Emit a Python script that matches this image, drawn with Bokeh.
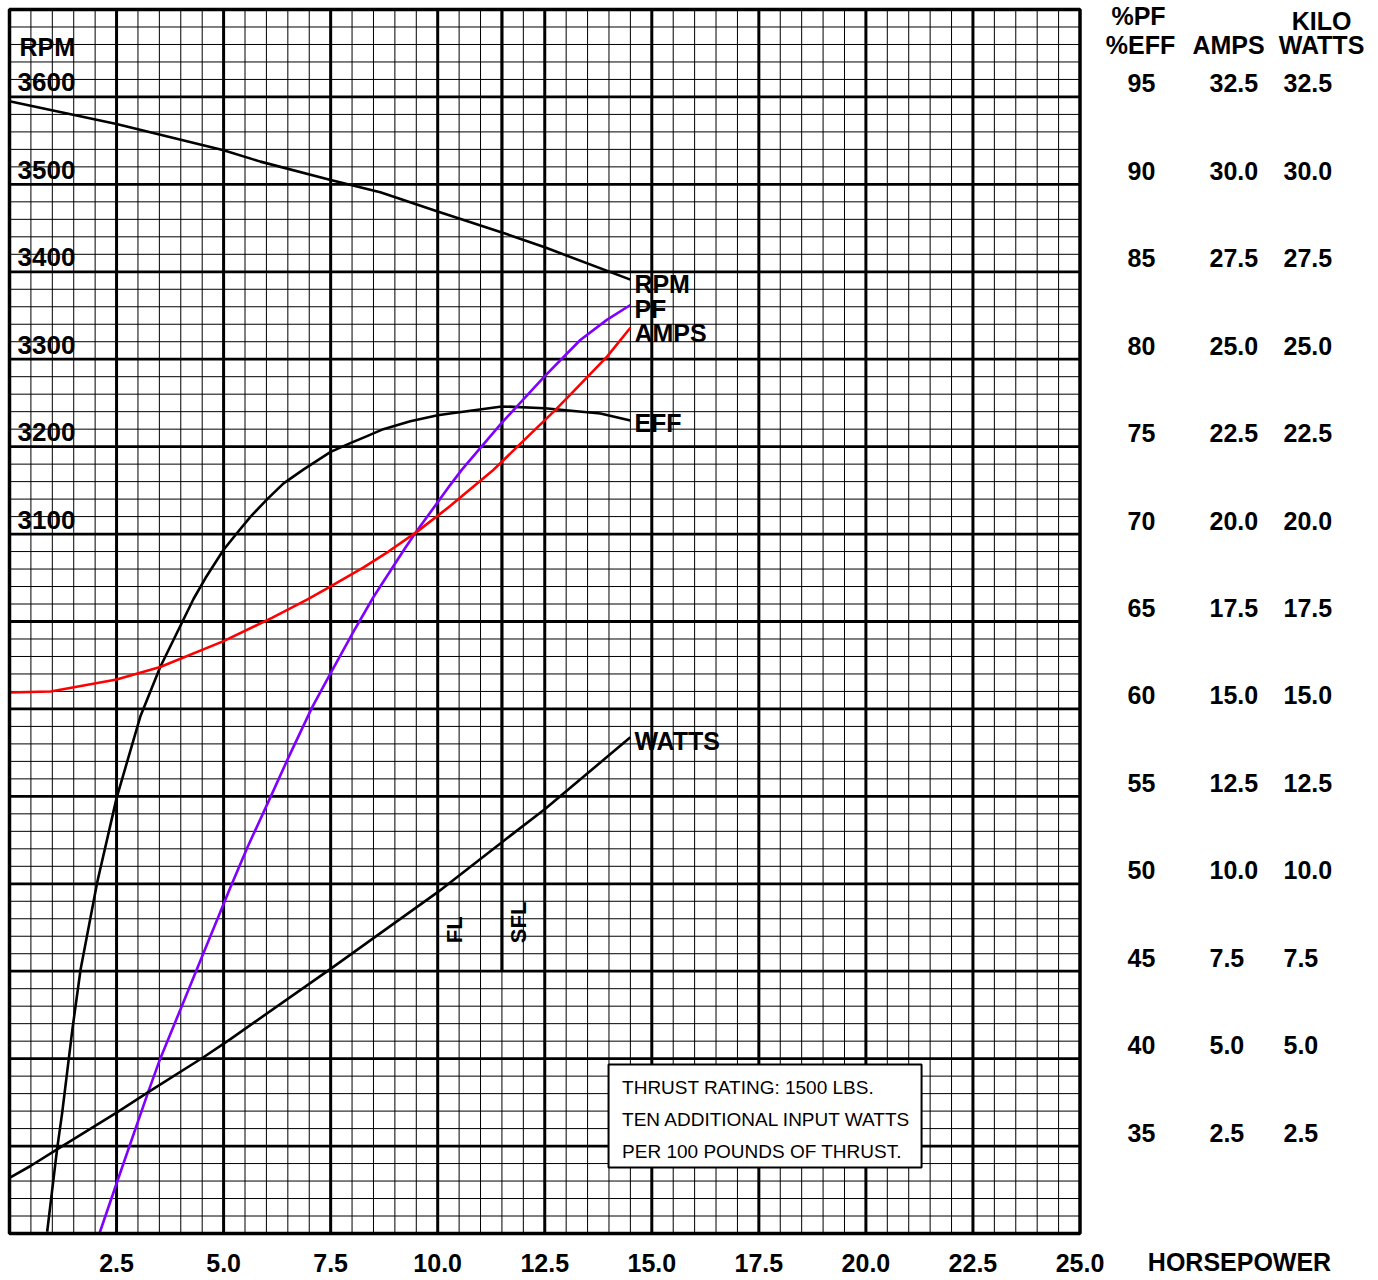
import math
from bokeh.plotting import figure
from bokeh.models import Range1d, Label, BoxAnnotation
from bokeh.embed import file_html
from bokeh.resources import INLINE

# ---------------- data ----------------
RPM_HP = [0.0, 2.5, 5.0, 5.86, 7.5, 8.66, 10.0, 11.5, 12.5, 14.5]
RPM_VALUES = [3595, 3569, 3539, 3526, 3505, 3491, 3469, 3445, 3428, 3391]

EFF_HP = [0.88, 1.11, 1.23, 1.47, 1.66, 2.05, 2.36, 2.50, 3.06, 3.52, 4.04, 4.30,
          4.58, 5.00, 5.31, 5.63, 6.02, 6.40, 6.87, 7.50, 7.96, 8.35, 8.73, 9.36,
          10.0, 10.29, 11.5, 12.5, 13.8, 14.5]
EFF_VALUES = [30.1, 34.8, 36.9, 41.7, 45.1, 50.1, 53.4, 54.9, 59.6, 62.4, 65.0, 66.3,
              67.5, 69.1, 70.05, 71.0, 72.0, 72.9, 73.7, 74.7, 75.2, 75.6, 76.0, 76.45,
              76.8, 76.9, 77.3, 77.2, 76.9, 76.5]

PF_HP = [2.10, 2.52, 3.24, 3.52, 4.04, 4.39, 5.16, 5.56, 6.14, 6.51, 7.07, 7.49,
         8.03, 8.50, 9.24, 9.52, 10.29, 10.57, 11.51, 12.49, 13.33, 13.95, 14.5]
PF_VALUES = [30.0, 33.0, 38.1, 40.0, 43.1, 45.2, 49.8, 52.1, 55.2, 57.2, 60.1, 62.0,
             64.4, 66.4, 69.2, 70.2, 72.8, 73.7, 76.4, 79.0, 81.1, 82.25, 83.1]

AMPS_HP = [0.0, 0.96, 2.5, 3.52, 5.0, 6.14, 6.96, 7.49, 8.26, 8.85, 9.52, 10.29,
           11.27, 12.75, 13.33, 13.96, 14.5]
AMPS_VALUES = [15.47, 15.5, 15.84, 16.2, 16.94, 17.61, 18.13, 18.5, 19.04, 19.5, 20.07,
               20.8, 21.8, 23.55, 24.28, 25.08, 25.9]

WATTS_HP = [0.0, 0.49, 1.12, 2.52, 3.24, 4.53, 5.16, 7.49, 10.0, 11.5, 12.5, 14.5]
KW_VALUES = [1.59, 1.93, 2.41, 3.47, 4.04, 5.04, 5.56, 7.56, 9.76, 11.19, 12.13, 14.19]

FL_HP = 10.0
SFL_HP = 11.5
SFL_BOTTOM_PCT = 45

X_TICKS = [2.5, 5.0, 7.5, 10.0, 12.5, 15.0, 17.5, 20.0, 22.5, 25.0]
X_TICK_LABELS = ["2.5", "5.0", "7.5", "10.0", "12.5", "15.0", "17.5", "20.0", "22.5", "25.0"]
RPM_TICKS = [3100, 3200, 3300, 3400, 3500, 3600]
PCT_TICKS = [35, 40, 45, 50, 55, 60, 65, 70, 75, 80, 85, 90, 95]
AMPS_TICKS = [2.5, 5.0, 7.5, 10.0, 12.5, 15.0, 17.5, 20.0, 22.5, 25.0, 27.5, 30.0, 32.5]
KW_TICKS = [2.5, 5.0, 7.5, 10.0, 12.5, 15.0, 17.5, 20.0, 22.5, 25.0, 27.5, 30.0, 32.5]

NOTE_LINES = ["THRUST RATING: 1500 LBS.",
              "TEN ADDITIONAL INPUT WATTS",
              "PER 100 POUNDS OF THRUST."]

# scale extents
HP_MIN, HP_MAX = 0.0, 25.0
PCT_MIN, PCT_MAX = 30.0, 100.0
RPM_MIN, RPM_MAX = 2300.0, 3700.0
AMPS_MIN, AMPS_MAX = 0.0, 35.0

FONT = "Liberation Sans"

# ---------------- layout: frame covers the whole canvas ----------------
W, H = 1376, 1278
PX_LEFT, PX_RIGHT, PX_TOP, PX_BOTTOM = 9.0, 1079.5, 9.0, 1233.0


def ext_range(lo, hi, px_lo, px_hi, total, invert=False):
    per = (hi - lo) / (px_hi - px_lo)
    if invert:  # vertical: px grows downward
        return Range1d(lo - (total - px_hi) * per, hi + px_lo * per)
    return Range1d(lo - px_lo * per, hi + (total - px_hi) * per)


p = figure(width=W, height=H,
           x_range=ext_range(HP_MIN, HP_MAX, PX_LEFT, PX_RIGHT, W),
           y_range=ext_range(PCT_MIN, PCT_MAX, PX_TOP, PX_BOTTOM, H, invert=True),
           output_backend="svg", toolbar_location=None,
           x_axis_location=None, y_axis_location=None,
           min_border=0, outline_line_color=None,
           background_fill_color="white", border_fill_color="white")
p.extra_y_ranges = {
    "rpm": ext_range(RPM_MIN, RPM_MAX, PX_TOP, PX_BOTTOM, H, invert=True),
    "amps": ext_range(AMPS_MIN, AMPS_MAX, PX_TOP, PX_BOTTOM, H, invert=True),
}
for g in list(p.grid):
    g.visible = False

# ---------------- chart-paper grid ----------------
v_major = X_TICKS[:-1]
v_minor = [i * 0.5 for i in range(1, 50) if i % 5 != 0]
h_major = PCT_TICKS
h_minor = [PCT_MIN + i for i in range(1, 70) if i % 5 != 0]

p.segment(x0=v_minor, y0=[PCT_MIN] * len(v_minor), x1=v_minor, y1=[PCT_MAX] * len(v_minor),
          line_color="black", line_width=1)
p.segment(x0=[HP_MIN] * len(h_minor), y0=h_minor, x1=[HP_MAX] * len(h_minor), y1=h_minor,
          line_color="black", line_width=1)
p.segment(x0=v_major, y0=[PCT_MIN] * len(v_major), x1=v_major, y1=[PCT_MAX] * len(v_major),
          line_color="black", line_width=3)
p.segment(x0=[HP_MIN] * len(h_major), y0=h_major, x1=[HP_MAX] * len(h_major), y1=h_major,
          line_color="black", line_width=2.8)
p.segment(x0=[SFL_HP], y0=[SFL_BOTTOM_PCT], x1=[SFL_HP], y1=[PCT_MAX],
          line_color="black", line_width=3.2)

# ---------------- curves ----------------
LW = 2.6
p.line(RPM_HP, RPM_VALUES, y_range_name="rpm", line_color="black", line_width=LW, line_join="round")
p.line(EFF_HP, EFF_VALUES, line_color="black", line_width=LW, line_join="round")
p.line(PF_HP, PF_VALUES, line_color="#7F00FF", line_width=LW, line_join="round")
p.line(AMPS_HP, AMPS_VALUES, y_range_name="amps", line_color="#FF0000", line_width=LW, line_join="round")
p.line(WATTS_HP, KW_VALUES, y_range_name="amps", line_color="black", line_width=LW, line_join="round")

# border of the chart paper
p.quad(left=[HP_MIN], right=[HP_MAX], bottom=[PCT_MIN], top=[PCT_MAX],
       fill_color=None, line_color="black", line_width=3.5)


def lab(text, x, y, xo=0, yo=0, rng="default", align="left", size="25px",
        style="bold", angle=0.0):
    p.add_layout(Label(x=x, y=y, x_offset=xo, y_offset=yo, y_range_name=rng,
                       text=text, text_align=align, text_baseline="middle",
                       text_font=FONT, text_font_style=style, text_font_size=size,
                       text_color="black", angle=angle))


# left RPM scale
lab("RPM", HP_MIN, RPM_MAX, xo=10, yo=-37, rng="rpm")
for r in RPM_TICKS:
    lab(str(r), HP_MIN, r, xo=8, yo=14.5, rng="rpm", size="26px")

# right-hand scales
lab("%PF", HP_MAX, PCT_MAX, xo=58.5, yo=-6.5, align="center")
lab("%EFF", HP_MAX, PCT_MAX, xo=60.5, yo=-35, align="center")
lab("AMPS", HP_MAX, PCT_MAX, xo=148.5, yo=-35, align="center")
lab("KILO", HP_MAX, PCT_MAX, xo=241.5, yo=-11.5, align="center")
lab("WATTS", HP_MAX, PCT_MAX, xo=241.5, yo=-35, align="center")
for v in PCT_TICKS:
    lab(str(v), HP_MAX, v, xo=47.5, yo=13.5)
for a in AMPS_TICKS:
    lab(f"{a:.1f}", HP_MAX, a, xo=129.5, yo=13.5, rng="amps")
for k in KW_TICKS:
    lab(f"{k:.1f}", HP_MAX, k, xo=203.5, yo=13.5, rng="amps")

# bottom scale
for xv, t in zip(X_TICKS, X_TICK_LABELS):
    lab(t, xv, PCT_MIN, yo=-29.5, align="center")
lab("HORSEPOWER", HP_MAX, PCT_MIN, xo=159.5, yo=-28, align="center")

# curve end labels
lab("RPM", RPM_HP[-1], RPM_VALUES[-1], xo=4, yo=-4, rng="rpm")
lab("PF", PF_HP[-1], PF_VALUES[-1], xo=4, yo=-4)
lab("AMPS", AMPS_HP[-1], AMPS_VALUES[-1], xo=4, yo=-5, rng="amps")
lab("EFF", EFF_HP[-1], EFF_VALUES[-1], xo=4, yo=-3)
lab("WATTS", WATTS_HP[-1], KW_VALUES[-1], xo=4, yo=-4, rng="amps")

# FL / SFL markers
lab("FL", FL_HP, SFL_BOTTOM_PCT, xo=16.5, yo=28, size="22px", angle=math.pi / 2)
lab("SFL", SFL_HP, SFL_BOTTOM_PCT, xo=16.5, yo=28, size="22px", angle=math.pi / 2)

# note box
BOX_LEFT, BOX_RIGHT, BOX_TOP, BOX_BOTTOM = 13.99, 21.30, 39.67, 33.78
p.add_layout(BoxAnnotation(left=BOX_LEFT, right=BOX_RIGHT, top=BOX_TOP, bottom=BOX_BOTTOM,
                           fill_color="white", fill_alpha=1.0,
                           line_color="black", line_width=2, line_alpha=1.0))
for i, t in enumerate(NOTE_LINES):
    lab(t, BOX_LEFT, BOX_TOP, xo=13.5, yo=-23 - 32 * i, size="19px", style="normal")

open("out.html", "w").write(file_html(p, INLINE))
